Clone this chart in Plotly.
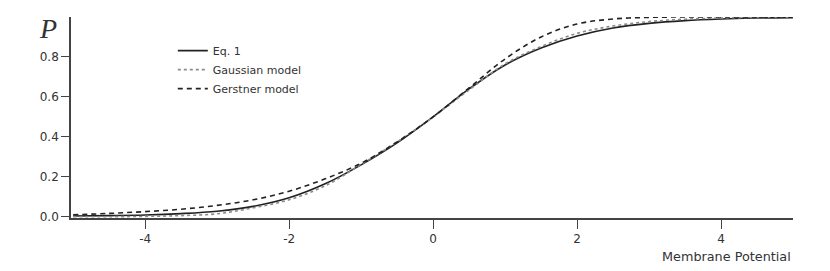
import plotly.graph_objects as go

x_vals = [-5.0, -4.5, -4.0, -3.5, -3.0, -2.5, -2.0, -1.5, -1.0, -0.5, 0.0,
          0.5, 1.0, 1.5, 2.0, 2.5, 3.0, 3.5, 4.0, 4.5, 5.0]
eq1 = [0.004, 0.006, 0.009, 0.016, 0.028, 0.052, 0.095, 0.165, 0.26, 0.37, 0.5,
       0.64, 0.76, 0.845, 0.905, 0.945, 0.968, 0.982, 0.99, 0.995, 0.997]
gaussian = [0.0, 0.0005, 0.002, 0.006, 0.015, 0.045, 0.085, 0.155, 0.262, 0.375, 0.5,
            0.635, 0.765, 0.852, 0.918, 0.955, 0.977, 0.989, 0.995, 0.998, 0.999]
gerstner = [0.01, 0.017, 0.026, 0.038, 0.057, 0.085, 0.128, 0.19, 0.268, 0.375, 0.5,
            0.645, 0.79, 0.9, 0.965, 0.99, 0.998, 1.0, 1.0, 1.0, 1.0]

series = [
    ("Eq. 1", eq1, dict(color="#222222", width=1.6, dash="solid")),
    ("Gaussian model", gaussian, dict(color="#8a8a8a", width=1.6, dash="dot")),
    ("Gerstner model", gerstner, dict(color="#222222", width=1.6, dash="5px,4px")),
]

fig = go.Figure()
for name, ys, line in series:
    fig.add_trace(go.Scatter(x=x_vals, y=ys, mode="lines", name=name,
                             line=dict(shape="spline", smoothing=1.0, **line)))

font_family = "DejaVu Sans, Verdana, sans-serif"
fig.update_layout(
    width=830, height=271,
    margin=dict(l=71, r=37, t=17, b=53),
    paper_bgcolor="white", plot_bgcolor="white",
    font=dict(family=font_family, size=12, color="#333333"),
    showlegend=True,
    legend=dict(x=0.141, y=0.905, xanchor="left", yanchor="top",
                bgcolor="rgba(0,0,0,0)", font=dict(size=11, color="#333333"),
                tracegroupgap=0, itemwidth=30),
    xaxis=dict(range=[-5.03, 5.0], showgrid=False, zeroline=False,
               showline=True, linecolor="#444444", linewidth=1.6,
               ticks="outside", ticklen=9, tickwidth=1.4, tickcolor="#444444",
               tickvals=[-4, -2, 0, 2, 4], ticktext=["-4", "-2", "0", "2", "4"]),
    yaxis=dict(range=[-0.006, 1.0], showgrid=False, zeroline=False,
               showline=True, linecolor="#444444", linewidth=1.6,
               ticks="outside", ticklen=8, tickwidth=1.4, tickcolor="#444444",
               tickvals=[0, 0.2, 0.4, 0.6, 0.8],
               ticktext=["0.0", "0.2", "0.4", "0.6", "0.8"]),
    annotations=[
        dict(text="<i>P</i>", xref="paper", yref="paper", x=-0.032, y=0.945,
             xanchor="center", yanchor="middle", showarrow=False,
             font=dict(family="Liberation Serif, Times New Roman, serif",
                       size=28, color="#333333")),
        dict(text="Membrane Potential", xref="paper", yref="paper", x=1.0, y=-0.19,
             xanchor="right", yanchor="middle", showarrow=False,
             font=dict(family=font_family, size=12.8, color="#333333")),
    ],
)
fig.write_html("out.html", config={"displayModeBar": False},
               post_script="document.body.style.margin='0';")
